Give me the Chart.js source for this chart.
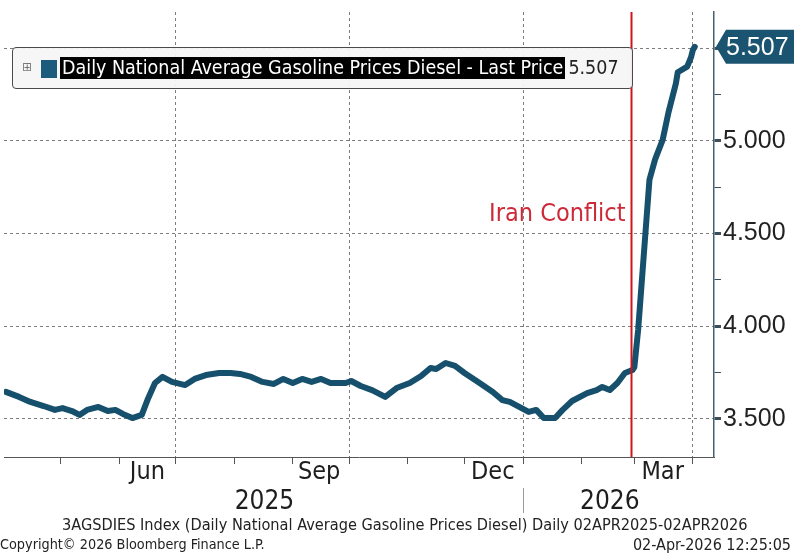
<!DOCTYPE html>
<html>
<head>
<meta charset="utf-8">
<script src="https://cdn.jsdelivr.net/npm/chart.js@4.4.1/dist/chart.umd.min.js"></script>
<style>
  html, body { margin: 0; padding: 0; background: #fff; }
  #wrap { position: relative; width: 794px; height: 555px; overflow: hidden; }
  #chart { position: absolute; left: 0; top: 0; }
  .narrow { font-family: 'Liberation Sans Narrow', 'DejaVu Sans Condensed', sans-serif; }
  #legend {
    position: absolute; left: 12px; top: 47px; width: 619px; height: 40px;
    border: 1px solid #4a4a4a; border-radius: 4px; background: rgba(246, 246, 246, 0.95);
    font-size: 19.5px; color: #222;
  }
  #legend .plus { position: absolute; left: 9px; top: 12px; font-family: 'DejaVu Sans', sans-serif; font-size: 12px; color: #777; line-height: 14px; }
  #legend .swatch { position: absolute; left: 28px; top: 12px; width: 16px; height: 18px; background: #1b5c7c; }
  #legend .row { position: absolute; left: 47px; top: 9px; height: 22px; line-height: 22px; white-space: nowrap; }
  #legend .name { display: inline-block; background: #000; color: #fff; padding: 0 2px; }
  #legend .val { display: inline-block; margin-left: 3px; }
  .foot { position: absolute; font-size: 16px; color: #222; white-space: nowrap; }
</style>
</head>
<body>
<div id="wrap">
  <canvas id="chart" width="794" height="555"></canvas>
  <div id="legend" class="narrow">
    <span class="plus">⊞</span>
    <span class="swatch"></span>
    <span class="row"><span class="name" id="legend-name"></span><span class="val" id="legend-val"></span></span>
  </div>
  <div class="foot narrow" id="foot-desc" style="left:62px; top:515px; font-size:16.2px;"></div>
  <div class="foot narrow" id="foot-copy" style="left:0px; top:536px; font-size:14.3px;"></div>
  <div class="foot narrow" id="foot-time" style="right:3px; top:535px;"></div>
</div>
<script>
const seriesName = 'Daily National Average Gasoline Prices Diesel - Last Price';

const dates = [
  '2025-04-02', '2025-04-09', '2025-04-15', '2025-04-22', '2025-04-28', '2025-05-02', '2025-05-07', '2025-05-11',
  '2025-05-15', '2025-05-21', '2025-05-26', '2025-05-30', '2025-06-03', '2025-06-08', '2025-06-13', '2025-06-16',
  '2025-06-20', '2025-06-24', '2025-06-29', '2025-07-06', '2025-07-11', '2025-07-17', '2025-07-24', '2025-07-30',
  '2025-08-04', '2025-08-10', '2025-08-16', '2025-08-22', '2025-08-27', '2025-09-01', '2025-09-06', '2025-09-11',
  '2025-09-16', '2025-09-21', '2025-09-29', '2025-10-02', '2025-10-07', '2025-10-13', '2025-10-20', '2025-10-26',
  '2025-11-02', '2025-11-08', '2025-11-13', '2025-11-16', '2025-11-21', '2025-11-26', '2025-12-01', '2025-12-09',
  '2025-12-16', '2025-12-21', '2025-12-25', '2025-12-30', '2026-01-04', '2026-01-08', '2026-01-12', '2026-01-18',
  '2026-01-22', '2026-01-27', '2026-02-04', '2026-02-09', '2026-02-12', '2026-02-16', '2026-02-20', '2026-02-24',
  '2026-02-28', '2026-03-01', '2026-03-03', '2026-03-05', '2026-03-07', '2026-03-09', '2026-03-12', '2026-03-16',
  '2026-03-19', '2026-03-23', '2026-03-24', '2026-03-29', '2026-03-31', '2026-04-01', '2026-04-02'
];

const prices = [
  3.646, 3.619, 3.592, 3.570, 3.549, 3.559, 3.543, 3.522,
  3.549, 3.565, 3.543, 3.549, 3.527, 3.505, 3.522, 3.602,
  3.694, 3.727, 3.700, 3.683, 3.716, 3.737, 3.748, 3.748,
  3.743, 3.727, 3.700, 3.689, 3.716, 3.694, 3.716, 3.700,
  3.716, 3.694, 3.694, 3.705, 3.678, 3.656, 3.619, 3.667,
  3.694, 3.732, 3.775, 3.770, 3.802, 3.786, 3.748, 3.694,
  3.646, 3.602, 3.592, 3.565, 3.538, 3.549, 3.505, 3.505,
  3.549, 3.597, 3.640, 3.656, 3.673, 3.656, 3.694, 3.748,
  3.764, 3.780, 3.980, 4.250, 4.520, 4.790, 4.900, 5.005,
  5.150, 5.310, 5.370, 5.400, 5.450, 5.490, 5.507
];

const monthStarts = [
  '2025-05-01', '2025-06-01', '2025-07-01', '2025-08-01', '2025-09-01', '2025-10-01',
  '2025-11-01', '2025-12-01', '2026-01-01', '2026-02-01', '2026-03-01', '2026-04-01'
];
const gridDates = ['2025-07-01', '2025-10-01', '2026-01-01', '2026-04-01'];
const monthLabels = ['Jun', 'Sep', 'Dec', 'Mar'];
const monthLabelDates = ['2025-06-16', '2025-09-15', '2025-12-16', '2026-03-16'];
const yearLabels = ['2025', '2026'];
const yearLabelDates = ['2025-08-17', '2026-02-16'];
const yearBreak = '2026-01-01';

const yTicks = [3.5, 3.75, 4.0, 4.25, 4.5, 4.75, 5.0, 5.25, 5.5];

const conflictDate = '2026-02-28';
const conflictLabel = 'Iran Conflict';
const conflictLabelLevel = 4.605;

const footDesc = '3AGSDIES Index (Daily National Average Gasoline Prices Diesel) Daily 02APR2025-02APR2026';
const footCopy = 'Copyright© 2026 Bloomberg Finance L.P.';
const footTime = '02-Apr-2026 12:25:05';

const NARROW = "'Liberation Sans Narrow', 'DejaVu Sans Condensed', sans-serif";
const LINE_COLOR = '#16506c';

function dayOf(s) {
  const [y, m, d] = s.split('-').map(Number);
  return (Date.UTC(y, m - 1, d) - Date.UTC(2025, 3, 2)) / 86400000;
}

const isMajor = v => Math.abs(v * 2 - Math.round(v * 2)) < 1e-9;

const lastValue = prices[prices.length - 1];
const gridDays = gridDates.map(dayOf);

document.getElementById('legend-name').textContent = seriesName;
document.getElementById('legend-val').textContent = lastValue.toFixed(3);
document.getElementById('foot-desc').textContent = footDesc;
document.getElementById('foot-copy').textContent = footCopy;
document.getElementById('foot-time').textContent = footTime;

const X_MIN = -1;
const X_MAX = 375.2;

function noPad(scale) {
  scale.paddingLeft = 0;
  scale.paddingRight = 0;
  scale.paddingTop = 0;
  scale.paddingBottom = 0;
}

const overlay = {
  id: 'overlay',
  afterDatasetsDraw(chart) {
    const { ctx, chartArea, scales } = chart;
    const x = scales.x;
    const y = scales.y;
    const cx = Math.round(x.getPixelForValue(dayOf(conflictDate))) - 0.5;

    ctx.save();
    ctx.strokeStyle = '#d0141c';
    ctx.lineWidth = 2;
    ctx.beginPath();
    ctx.moveTo(cx, chartArea.top);
    ctx.lineTo(cx, chartArea.bottom);
    ctx.stroke();

    ctx.fillStyle = '#cc2a38';
    ctx.font = '25px ' + NARROW;
    ctx.textAlign = 'right';
    ctx.textBaseline = 'middle';
    ctx.fillText(conflictLabel, cx - 6, y.getPixelForValue(conflictLabelLevel));
    ctx.restore();
  },
  afterDraw(chart) {
    const { ctx, chartArea, scales } = chart;
    const y = scales.y;
    const xy = scales.xy;

    // last price tag on the right axis
    const ly = y.getPixelForValue(lastValue);
    const left = chartArea.right + 2;
    const h = 34;
    ctx.save();
    ctx.fillStyle = '#1b5470';
    ctx.beginPath();
    ctx.moveTo(left, ly);
    ctx.lineTo(left + 10, ly - h / 2);
    ctx.lineTo(chart.width, ly - h / 2);
    ctx.lineTo(chart.width, ly + h / 2);
    ctx.lineTo(left + 10, ly + h / 2);
    ctx.closePath();
    ctx.fill();
    ctx.fillStyle = '#ffffff';
    ctx.font = '25px "Liberation Sans", Arial, sans-serif';
    ctx.textAlign = 'left';
    ctx.textBaseline = 'middle';
    ctx.fillText(lastValue.toFixed(3), left + 10, ly + 1);

    // divider between the year labels
    const bx = Math.round(xy.getPixelForValue(dayOf(yearBreak))) + 0.5;
    ctx.strokeStyle = '#9a9a9a';
    ctx.lineWidth = 1;
    ctx.beginPath();
    ctx.moveTo(bx, xy.top + 1);
    ctx.lineTo(bx, xy.bottom - 2);
    ctx.stroke();
    ctx.restore();
  }
};

const ctx = document.getElementById('chart').getContext('2d');

const chart = new Chart(ctx, {
  type: 'line',
  data: {
    datasets: [{
      label: seriesName,
      data: dates.map((d, i) => ({ x: dayOf(d), y: prices[i] })),
      borderColor: LINE_COLOR,
      backgroundColor: LINE_COLOR,
      borderWidth: 6,
      pointRadius: 0,
      tension: 0,
      borderJoinStyle: 'round',
      borderCapStyle: 'round'
    }]
  },
  options: {
    responsive: false,
    animation: false,
    layout: { padding: { left: 4, top: 12, right: 0, bottom: 40 } },
    plugins: {
      legend: { display: false },
      tooltip: { enabled: false }
    },
    scales: {
      x: {
        type: 'linear',
        position: 'bottom',
        weight: 0,
        min: X_MIN,
        max: X_MAX,
        afterBuildTicks: scale => { scale.ticks = monthStarts.map(d => ({ value: dayOf(d) })); },
        afterFit: scale => { noPad(scale); scale.height = 0; },
        ticks: { display: false, autoSkip: false },
        grid: {
          drawTicks: true,
          tickLength: 7,
          color: c => (c.tick && gridDays.includes(c.tick.value) ? '#7d7d7d' : 'rgba(0,0,0,0)'),
          lineWidth: 1,
          tickColor: '#555',
          tickBorderDash: [],
          tickWidth: 1
        },
        border: { display: true, color: '#555', width: 1, dash: [3, 3] }
      },
      xm: {
        type: 'linear',
        position: 'bottom',
        weight: 1,
        min: X_MIN,
        max: X_MAX,
        afterBuildTicks: scale => { scale.ticks = monthLabelDates.map(d => ({ value: dayOf(d) })); },
        afterFit: scale => { noPad(scale); scale.height = 30; },
        ticks: {
          autoSkip: false,
          maxRotation: 0,
          padding: 0,
          color: '#1e1e1e',
          font: { family: NARROW, size: 25 },
          callback: (v, i) => monthLabels[i]
        },
        grid: { display: false, drawTicks: false },
        border: { display: false }
      },
      xy: {
        type: 'linear',
        position: 'bottom',
        weight: 2,
        min: X_MIN,
        max: X_MAX,
        afterBuildTicks: scale => { scale.ticks = yearLabelDates.map(d => ({ value: dayOf(d) })); },
        afterFit: scale => { noPad(scale); scale.height = 28; },
        ticks: {
          autoSkip: false,
          maxRotation: 0,
          padding: 0,
          color: '#1e1e1e',
          font: { family: NARROW, size: 26 },
          callback: (v, i) => yearLabels[i]
        },
        grid: { display: false, drawTicks: false },
        border: { display: false }
      },
      y: {
        type: 'linear',
        position: 'right',
        min: 3.295,
        max: 5.695,
        afterBuildTicks: scale => { scale.ticks = yTicks.map(v => ({ value: v })); },
        afterFit: scale => { noPad(scale); scale.width = 80; },
        ticks: {
          padding: 2,
          color: '#222',
          font: { family: '"Liberation Sans", Arial, sans-serif', size: 25 },
          callback: v => (isMajor(v) && v < 5.4 ? v.toFixed(3) : '')
        },
        grid: {
          tickLength: 7,
          color: c => (c.tick && isMajor(c.tick.value) ? '#7d7d7d' : 'rgba(0,0,0,0)'),
          lineWidth: 1,
          tickColor: '#3d4f5a',
          tickBorderDash: [],
          tickWidth: c => (c.tick && isMajor(c.tick.value) ? 3 : 1)
        },
        border: { display: true, color: '#46606e', width: 1.5, dash: [3, 3] }
      }
    }
  },
  plugins: [overlay]
});
</script>
</body>
</html>
